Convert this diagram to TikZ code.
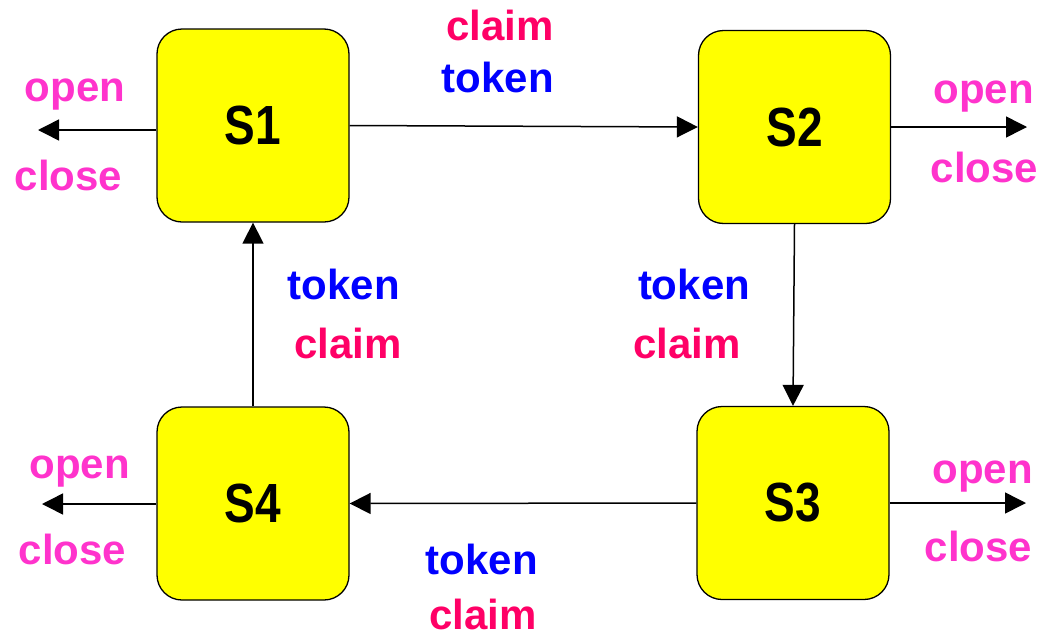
\documentclass[tikz,border=0pt]{standalone}
\usepackage{fontspec}
\setmainfont{Liberation Sans}
\usetikzlibrary{arrows.meta}
\definecolor{claimred}{HTML}{FF0066}
\definecolor{tokenblue}{HTML}{0000FF}
\definecolor{ocpink}{HTML}{FF33CC}
\definecolor{stateyellow}{HTML}{FFFF00}
\newcommand{\stname}[1]{\scalebox{1}[1.2]{#1}}

\begin{document}
\begin{tikzpicture}[x=1pt,y=-1pt,
    state/.style={draw, line width=1.3pt, fill=stateyellow, rounded corners=25pt,
      minimum width=192pt, minimum height=193pt, inner sep=0pt,
      font=\fontsize{46}{46}\selectfont\bfseries},
    lbl/.style={anchor=base, font=\fontsize{42}{42}\selectfont\bfseries},
    link/.style={line width=1.5pt, -{Triangle[length=21pt,width=21pt]}}]
    \useasboundingbox (0,0) rectangle (1055,635);

    % The four states
    \node[state] (S1) at (253,125.5) {\stname{S1}};
    \node[state] (S2) at (794.5,127) {\stname{S2}};
    \node[state] (S3) at (793,503) {\stname{S3}};
    \node[state] (S4) at (253,503.5) {\stname{S4}};

    % Free ends of the open/close arrows
    \coordinate (out1) at (38,130);
    \coordinate (out2) at (1027,127);
    \coordinate (out3) at (1026,503);
    \coordinate (out4) at (42,504);

    % Ring of token passing
    \draw[link] (S1.east) -- (S2.west);
    \draw[link] (S2.south) -- (S3.north);
    \draw[link] (S3.west) -- (S4.east);
    \draw[link] (S4.north) -- (S1.south);

    % Open/close outputs
    \draw[link] (S1.west |- out1) -- (out1);
    \draw[link] (S2.east |- out2) -- (out2);
    \draw[link] (S3.east |- out3) -- (out3);
    \draw[link] (S4.west |- out4) -- (out4);

    % Labels on the ring
    \node[lbl, text=claimred] (c12) at (500,40) {claim};
    \node[lbl, text=tokenblue] (t12) at (498,92) {token};
    \node[lbl, text=tokenblue] (t23) at (694,299) {token};
    \node[lbl, text=claimred] (c23) at (687,358) {claim};
    \node[lbl, text=tokenblue] (t34) at (482,574) {token};
    \node[lbl, text=claimred] (c34) at (483,629) {claim};
    \node[lbl, text=tokenblue] (t41) at (344,299) {token};
    \node[lbl, text=claimred] (c41) at (348,358) {claim};

    % Labels on the outputs
    \node[lbl, text=ocpink] (o1) at (75,101) {open};
    \node[lbl, text=ocpink] (k1) at (68.5,190) {close};
    \node[lbl, text=ocpink] (o2) at (983.5,103) {open};
    \node[lbl, text=ocpink] (k2) at (984.5,182) {close};
    \node[lbl, text=ocpink] (o3) at (982.5,483) {open};
    \node[lbl, text=ocpink] (k3) at (978.5,561) {close};
    \node[lbl, text=ocpink] (o4) at (79.5,478) {open};
    \node[lbl, text=ocpink] (k4) at (72.5,564) {close};

\end{tikzpicture}
\end{document}
